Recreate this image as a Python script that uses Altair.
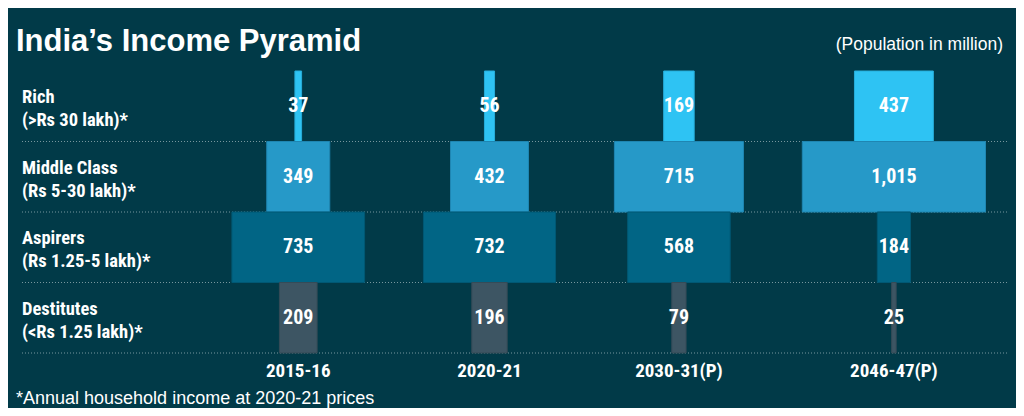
import altair as alt
import pandas as pd

years = ["2015-16", "2020-21", "2030-31(P)", "2046-47(P)"]
groups = ["Rich", "Middle Class", "Aspirers", "Destitutes"]
group_labels = ["Rich\n(>Rs 30 lakh)*", "Middle Class\n(Rs 5-30 lakh)*",
                "Aspirers\n(Rs 1.25-5 lakh)*", "Destitutes\n(<Rs 1.25 lakh)*"]
rich = [37, 56, 169, 437]
middle = [349, 432, 715, 1015]
aspirers = [735, 732, 568, 184]
destitutes = [209, 196, 79, 25]

title_text = "India\u2019s Income Pyramid"
unit_text = "(Population in million)"
note_text = "*Annual household income at 2020-21 prices"

colors = ["#2ec3f3", "#2699c8", "#016585", "#3d5563"]
strokes = ["#27aedb", "#1f86b2", "#015874", "#354b57"]

# layout in data units (million people): columns as wide as their widest bar
W, H = 986, 282
PX_PER_UNIT = 0.1805
XMAX = W / PX_PER_UNIT
LEFT = 1163
GAP = 326

series = [rich, middle, aspirers, destitutes]
centers = []
pos = LEFT
for i in range(len(years)):
    mx = max(s[i] for s in series)
    centers.append(pos + mx / 2)
    pos += mx + GAP

rows = []
for g, s in zip(groups, series):
    for i, y in enumerate(years):
        rows.append({"group": g, "year": y, "value": s[i],
                     "center": centers[i],
                     "x0": centers[i] - s[i] / 2, "x1": centers[i] + s[i] / 2})
df = pd.DataFrame(rows)
lab_df = pd.DataFrame({"group": groups, "label": group_labels})
yr_df = pd.DataFrame({"year": years, "center": centers})

xs = alt.Scale(domain=[0, XMAX], nice=False, zero=False)
ys = alt.Scale(domain=groups, paddingInner=0, paddingOuter=0)
Y = alt.Y("group:N", sort=groups, scale=ys, axis=None)

COND = "Roboto Condensed, Open Sans Condensed, sans-serif"
SANS = "Liberation Sans, Arial, sans-serif"

rules = alt.Chart(lab_df).mark_rule(strokeDash=[1, 2], color="#d8e2e6",
                                     opacity=0.55, strokeWidth=1).encode(
    y=alt.Y("group:N", sort=groups, scale=ys, axis=None, bandPosition=1),
    x=alt.value(0), x2=alt.value(W))

bars = alt.Chart(df).mark_rect(strokeWidth=1).encode(
    x=alt.X("x0:Q", scale=xs, axis=None), x2="x1:Q", y=Y,
    color=alt.Color("group:N", scale=alt.Scale(domain=groups, range=colors), legend=None),
    stroke=alt.Stroke("group:N", scale=alt.Scale(domain=groups, range=strokes), legend=None))

vals = alt.Chart(df).mark_text(font=COND, fontWeight="bold", fontSize=20,
                               color="white", baseline="middle").encode(
    x=alt.X("center:Q", scale=xs, axis=None), y=Y,
    text=alt.Text("value:Q", format=","))

labs = alt.Chart(lab_df).mark_text(font=COND, fontWeight="bold", fontSize=18.5,
                                   color="white", align="left", baseline="middle",
                                   lineBreak="\n", lineHeight=23, dy=-9).encode(
    x=alt.value(0), y=Y, text="label:N")

yrs = alt.Chart(yr_df).mark_text(font=COND, fontWeight="bold", fontSize=19,
                                 color="white", baseline="alphabetic").encode(
    x=alt.X("center:Q", scale=xs, axis=None), y=alt.value(H + 24), text="year:N")

ttl = alt.Chart(pd.DataFrame({"t": [title_text]})).mark_text(
    font=SANS, fontWeight="bold", fontSize=31, color="white",
    align="left", baseline="alphabetic").encode(
    x=alt.value(-6), y=alt.value(-20), text="t:N")

unit = alt.Chart(pd.DataFrame({"t": [unit_text]})).mark_text(
    font=SANS, fontSize=17.5, color="white", align="right",
    baseline="alphabetic").encode(x=alt.value(981), y=alt.value(-21), text="t:N")

note = alt.Chart(pd.DataFrame({"t": [note_text]})).mark_text(
    font=SANS, fontSize=18, color="white", align="left",
    baseline="alphabetic").encode(x=alt.value(-6), y=alt.value(H + 51), text="t:N")

chart = alt.layer(rules, bars, vals, labs, yrs, ttl, unit, note).properties(
    width=W, height=H, background="#013a48",
    padding={"left": 14, "top": 63, "right": 8, "bottom": 55},
    autosize=alt.AutoSizeParams(type="none")
).configure_view(stroke=None)

chart.save("out.html", embed_options={"renderer": "svg", "actions": False})
